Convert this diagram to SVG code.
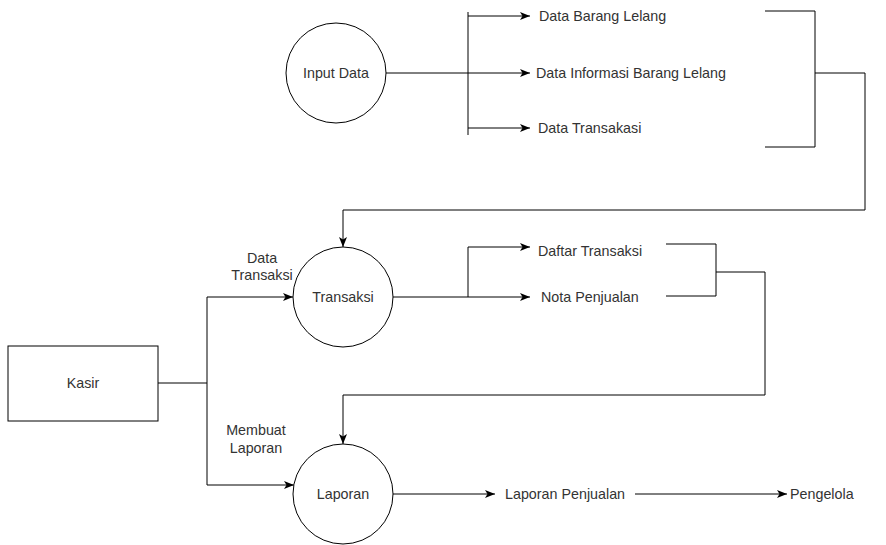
<svg xmlns="http://www.w3.org/2000/svg" width="886" height="545" viewBox="0 0 886 545">
<defs>
<marker id="arr" markerUnits="userSpaceOnUse" markerWidth="10" markerHeight="10" viewBox="0 0 10 10" refX="10" refY="5" orient="auto">
<path d="M0,1 L10,5 L0,9 L2.5,5 z" fill="#000"/>
</marker>
<style>
.ln{fill:none;stroke:#000;stroke-width:1}
.ar{fill:none;stroke:#000;stroke-width:1;marker-end:url(#arr)}
.nd{fill:#fff;stroke:#000;stroke-width:1}
text{font-family:"Liberation Sans",Arial,sans-serif;font-size:14.3px;fill:#333}
.c{text-anchor:middle}
</style>
</defs>
<rect width="886" height="545" fill="#fff"/>
<g id="connectors">
<path class="ln" d="M386,73 H468"/>
<path class="ln" d="M468,12 V135"/>
<path class="ar" d="M468,16 H530"/>
<path class="ar" d="M468,73 H530"/>
<path class="ar" d="M468,128 H530"/>
<path class="ln" d="M765,11 H815 V147 H765"/>
<path class="ar" d="M815,73 H865 V210 H343 V247"/>
<path class="ar" d="M393,297 H530"/>
<path class="ar" d="M468,297 V247 H530"/>
<path class="ln" d="M666,244 H716 V296 H666"/>
<path class="ar" d="M716,272 H765 V395 H343 V444"/>
<path class="ln" d="M158,383 H207"/>
<path class="ar" d="M207,383 V297 H293"/>
<path class="ar" d="M207,383 V485 H294"/>
<path class="ar" d="M393,494 H495"/>
<path class="ar" d="M635,494 H787"/>
</g>
<g id="input-data"><circle class="nd" cx="336" cy="73" r="50"/><text class="c" x="336" y="78">Input Data</text></g>
<g id="transaksi"><circle class="nd" cx="343" cy="297" r="50"/><text class="c" x="343" y="302">Transaksi</text></g>
<g id="laporan"><circle class="nd" cx="343" cy="494" r="50"/><text class="c" x="343" y="499">Laporan</text></g>
<g id="kasir"><rect class="nd" x="8" y="346" width="150" height="75"/><text class="c" x="83" y="388">Kasir</text></g>
<g id="labels">
<text x="539" y="21">Data Barang Lelang</text>
<text x="536" y="78">Data Informasi Barang Lelang</text>
<text x="538" y="133">Data Transakasi</text>
<text x="538" y="256">Daftar Transaksi</text>
<text x="541" y="302">Nota Penjualan</text>
<text class="c" x="262" y="263">Data</text>
<text class="c" x="262" y="280">Transaksi</text>
<text class="c" x="256" y="435">Membuat</text>
<text class="c" x="256" y="453">Laporan</text>
<text x="505" y="499">Laporan Penjualan</text>
<text x="790" y="499">Pengelola</text>
</g>
</svg>
